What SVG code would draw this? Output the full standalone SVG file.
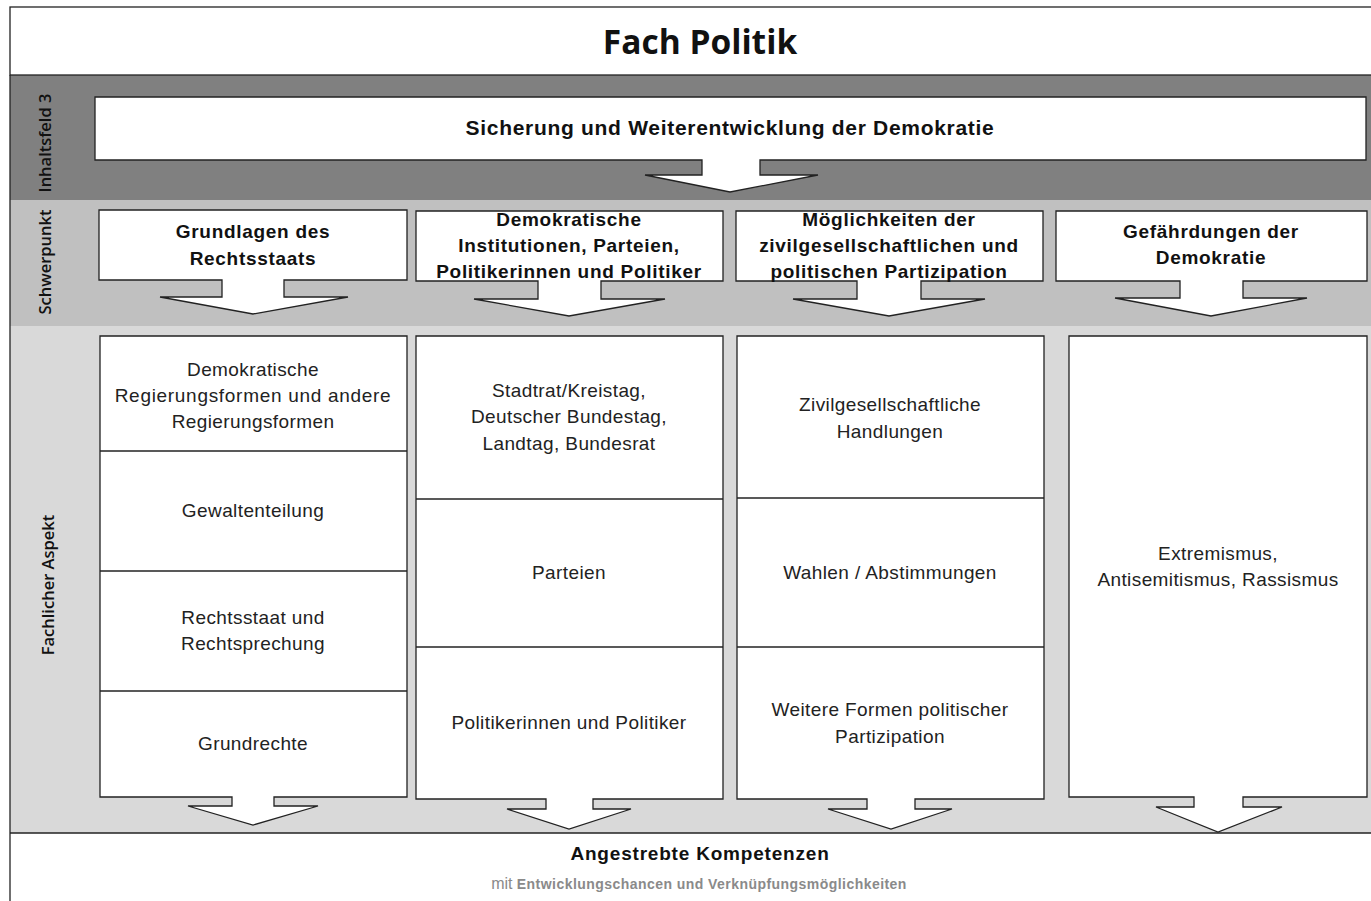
<svg xmlns="http://www.w3.org/2000/svg" width="1371" height="901" viewBox="0 0 1371 901">
<style>
.sh{fill:#fff;stroke:#222;stroke-width:1.3}
.ln{stroke:#222;stroke-width:1.3;fill:none}
.hb{font-family:"Liberation Sans",Arial,sans-serif;font-weight:bold;font-size:19px;letter-spacing:0.7px;fill:#111;text-anchor:middle}
.tx{font-family:"Liberation Sans",Arial,sans-serif;font-size:19px;letter-spacing:0.4px;fill:#222;text-anchor:middle}
.side{font-family:"Open Sans","DejaVu Sans",sans-serif;font-weight:600;font-size:16.5px;fill:#111;text-anchor:middle}
</style>
<g id="bands">
<rect x="10" y="75" width="1365" height="125" fill="#808080"/>
<rect x="10" y="200" width="1365" height="126" fill="#c0c0c0"/>
<rect x="10" y="326" width="1365" height="507" fill="#d9d9d9"/>
<line x1="10" y1="75" x2="10" y2="901" class="ln"/>
</g>
<g id="title">
<rect x="10" y="7" width="1370" height="68" class="sh"/>
<text x="700" y="54" style="font-family:'Open Sans','DejaVu Sans',sans-serif;font-weight:700;font-size:33.5px;fill:#111;text-anchor:middle">Fach Politik</text>
</g>
<g id="side-labels">
<text class="side" transform="translate(51,143) rotate(-90)">Inhaltsfeld 3</text>
<text class="side" transform="translate(51,262) rotate(-90)">Schwerpunkt</text>
<text class="side" transform="translate(54,585) rotate(-90)">Fachlicher Aspekt</text>
</g>
<g id="inhaltsfeld">
<path class="sh" d="M95,97 H1366 V160 H760 V175 H818 L730,192 L645,175 H702 V160 H95 Z"/>
<text class="hb" x="730" y="135" style="font-size:21px">Sicherung und Weiterentwicklung der Demokratie</text>
</g>
<g id="schwerpunkt-1">
<path class="sh" d="M99,210 H407 V280 H284 V297 H348 L253,314 L160,297 H222 V280 H99 Z"/>
<text class="hb" x="253" y="238">Grundlagen des</text>
<text class="hb" x="253" y="265">Rechtsstaats</text>
</g>
<g id="schwerpunkt-2">
<path class="sh" d="M416,211 H723 V281 H601 V299 H665 L569,316 L474,299 H538 V281 H416 Z"/>
<text class="hb" x="569" y="226">Demokratische</text>
<text class="hb" x="569" y="252">Institutionen, Parteien,</text>
<text class="hb" x="569" y="278">Politikerinnen und Politiker</text>
</g>
<g id="schwerpunkt-3">
<path class="sh" d="M736,211 H1043 V281 H921 V299 H985 L889,316 L793,299 H857 V281 H736 Z"/>
<text class="hb" x="889" y="226">Möglichkeiten der</text>
<text class="hb" x="889" y="252">zivilgesellschaftlichen und</text>
<text class="hb" x="889" y="278">politischen Partizipation</text>
</g>
<g id="schwerpunkt-4">
<path class="sh" d="M1056,211 H1367 V281 H1243 V298 H1307 L1211,316 L1115,298 H1180 V281 H1056 Z"/>
<text class="hb" x="1211" y="238">Gefährdungen der</text>
<text class="hb" x="1211" y="264">Demokratie</text>
</g>
<g id="aspekt-1">
<path class="sh" d="M100,336 H407 V797 H274 V806 H318 L253,825 L188,806 H232 V797 H100 Z"/>
<line class="ln" x1="100" y1="451" x2="407" y2="451"/>
<line class="ln" x1="100" y1="571" x2="407" y2="571"/>
<line class="ln" x1="100" y1="691" x2="407" y2="691"/>
<text class="tx" x="253" y="376">Demokratische</text>
<text class="tx" x="253" y="402" style="letter-spacing:0.7px">Regierungsformen und andere</text>
<text class="tx" x="253" y="428">Regierungsformen</text>
<text class="tx" x="253" y="517">Gewaltenteilung</text>
<text class="tx" x="253" y="624">Rechtsstaat und</text>
<text class="tx" x="253" y="650">Rechtsprechung</text>
<text class="tx" x="253" y="750">Grundrechte</text>
</g>
<g id="aspekt-2">
<path class="sh" d="M416,336 H723 V799 H593 V809 H631 L569,829 L507,809 H546 V799 H416 Z"/>
<line class="ln" x1="416" y1="499" x2="723" y2="499"/>
<line class="ln" x1="416" y1="647" x2="723" y2="647"/>
<text class="tx" x="569" y="397">Stadtrat/Kreistag,</text>
<text class="tx" x="569" y="423">Deutscher Bundestag,</text>
<text class="tx" x="569" y="450">Landtag, Bundesrat</text>
<text class="tx" x="569" y="579">Parteien</text>
<text class="tx" x="569" y="729">Politikerinnen und Politiker</text>
</g>
<g id="aspekt-3">
<path class="sh" d="M737,336 H1044 V799 H915 V809 H952 L891,829 L828,809 H867 V799 H737 Z"/>
<line class="ln" x1="737" y1="498" x2="1044" y2="498"/>
<line class="ln" x1="737" y1="647" x2="1044" y2="647"/>
<text class="tx" x="890" y="411">Zivilgesellschaftliche</text>
<text class="tx" x="890" y="438">Handlungen</text>
<text class="tx" x="890" y="579">Wahlen / Abstimmungen</text>
<text class="tx" x="890" y="716">Weitere Formen politischer</text>
<text class="tx" x="890" y="743">Partizipation</text>
</g>
<g id="aspekt-4">
<path class="sh" d="M1069,336 H1367 V797 H1243 V807 H1282 L1218,832 L1156,807 H1194 V797 H1069 Z"/>
<text class="tx" x="1218" y="560">Extremismus,</text>
<text class="tx" x="1218" y="586">Antisemitismus, Rassismus</text>
</g>
<g id="kompetenzen">
<line class="ln" x1="10" y1="833" x2="1371" y2="833"/>
<text class="hb" x="700" y="860" style="letter-spacing:0.8px">Angestrebte Kompetenzen</text>
<text x="699" y="889" style="font-family:'Liberation Sans',Arial,sans-serif;font-weight:bold;font-size:14px;fill:#8a8a8a;text-anchor:middle;letter-spacing:0.45px"><tspan style="font-weight:normal;font-size:16px;letter-spacing:0">mit</tspan> Entwicklungschancen und Verknüpfungsmöglichkeiten</text>
</g>
</svg>
